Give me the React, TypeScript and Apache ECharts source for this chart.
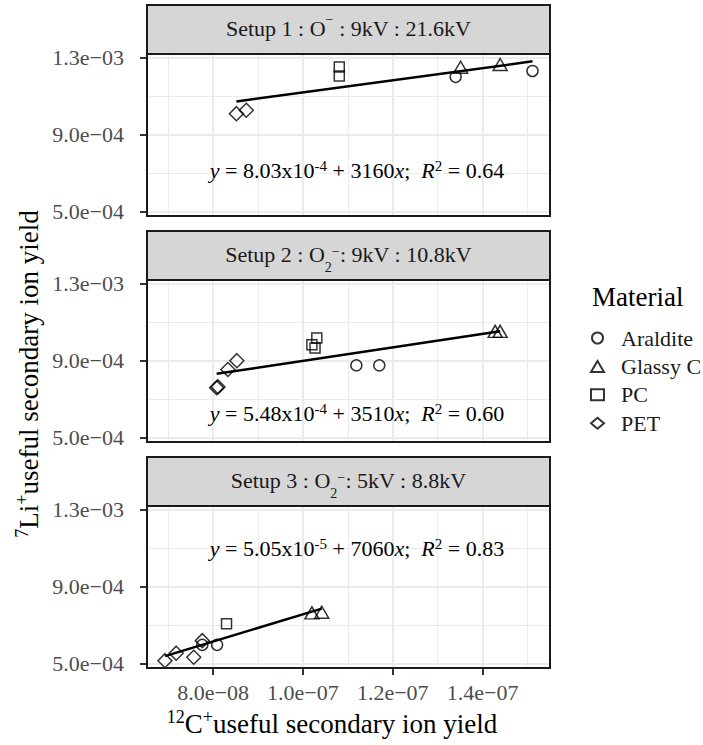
import React, { useEffect, useRef } from 'react';
import * as echarts from 'echarts';

// ---------- data ----------
const materials = ['Araldite', 'Glassy C', 'PC', 'PET'];
const materialSymbols = ['circle', 'triangle', 'rect', 'diamond'];

const setup1Araldite = [[1.340e-7, 1.200e-3], [1.511e-7, 1.2305e-3]];
const setup1Glassy = [[1.351e-7, 1.250e-3], [1.439e-7, 1.264e-3]];
const setup1PC = [[1.081e-7, 1.251e-3], [1.081e-7, 1.205e-3]];
const setup1PET = [[8.52e-8, 1.009e-3], [8.74e-8, 1.027e-3]];

const setup2Araldite = [[1.119e-7, 8.76e-4], [1.170e-7, 8.76e-4]];
const setup2Glassy = [[1.428e-7, 1.052e-3], [1.439e-7, 1.052e-3]];
const setup2PC = [[1.020e-7, 9.83e-4], [1.031e-7, 1.018e-3], [1.027e-7, 9.66e-4]];
const setup2PET = [[8.08e-8, 7.60e-4], [8.11e-8, 7.64e-4], [8.33e-8, 8.54e-4], [8.53e-8, 9.00e-4]];

const setup3Araldite = [[7.76e-8, 5.98e-4], [8.09e-8, 5.98e-4]];
const setup3Glassy = [[1.020e-7, 7.64e-4], [1.042e-7, 7.67e-4]];
const setup3PC = [[8.30e-8, 7.07e-4]];
const setup3PET = [[6.93e-8, 5.16e-4], [7.18e-8, 5.55e-4], [7.57e-8, 5.34e-4], [7.76e-8, 6.20e-4]];

const setup1Fit = [[8.52e-8, 1.0722e-3], [1.511e-7, 1.2805e-3]];
const setup2Fit = [[8.08e-8, 8.316e-4], [1.439e-7, 1.0531e-3]];
const setup3Fit = [[6.93e-8, 5.398e-4], [1.042e-7, 7.862e-4]];

const panelData = [
  [setup1Araldite, setup1Glassy, setup1PC, setup1PET],
  [setup2Araldite, setup2Glassy, setup2PC, setup2PET],
  [setup3Araldite, setup3Glassy, setup3PC, setup3PET],
];
const panelFits = [setup1Fit, setup2Fit, setup3Fit];

const stripTexts = [
  'Setup 1 : O{sup1|−} : 9kV : 21.6kV',
  'Setup 2 : O{sub|2}{sup2|−}: 9kV : 10.8kV',
  'Setup 3 : O{sub|2}{sup2|−}: 5kV : 8.8kV',
];
const equations = [
  '{i|y} = 8.03x10{sup|-4} + 3160{i|x};  {i|R}{sup|2} = 0.64',
  '{i|y} = 5.48x10{sup|-4} + 3510{i|x};  {i|R}{sup|2} = 0.60',
  '{i|y} = 5.05x10{sup|-5} + 7060{i|x};  {i|R}{sup|2} = 0.83',
];

const xRange = [6.53e-8, 1.55e-7];
const yRange = [4.78e-4, 1.3186e-3];
const xTickValues = [8e-8, 1e-7, 1.2e-7, 1.4e-7];
const xTickLabels = ['8.0e−08', '1.0e−07', '1.2e−07', '1.4e−07'];
const xMinorValues = [7e-8, 9e-8, 1.1e-7, 1.3e-7, 1.5e-7];
const yTickValues = [5e-4, 9e-4, 1.3e-3];
const yTickLabels = ['5.0e−04', '9.0e−04', '1.3e−03'];
const yMinorValues = [7e-4, 1.1e-3];

// ---------- layout ----------
const FONT = 'Liberation Serif';
const GL = 147;
const GW = 403;
const GH = 162;
const STRIP_H = 49;
const panelTops = [54, 280, 506];
const eqOffsets = [116, 133, 42];

const symbolSizes: any[] = [11, [14, 12], 10, 14];

function lookup(values: number[], labels: string[]) {
  return (v: number) => {
    for (let i = 0; i < values.length; i++) {
      if (Math.abs(v - values[i]) < Math.abs(values[i]) * 1e-6) return labels[i];
    }
    return '';
  };
}

function buildOption() {
  const grid: any[] = [];
  const xAxis: any[] = [];
  const yAxis: any[] = [];
  const series: any[] = [];
  const graphic: any[] = [];

  panelTops.forEach((top, p) => {
    grid.push({ left: GL, top, width: GW, height: GH, show: true, backgroundColor: '#ffffff', borderWidth: 0 });
    const isBottom = p === panelTops.length - 1;
    xAxis.push({
      type: 'value', gridIndex: p, min: xRange[0], max: xRange[1], position: 'bottom',
      axisLine: { show: false },
      axisTick: { show: isBottom, length: 7, lineStyle: { color: '#333333', width: 2 }, customValues: xTickValues },
      axisLabel: {
        show: isBottom, customValues: xTickValues, formatter: lookup(xTickValues, xTickLabels),
        margin: 13, fontSize: 22, fontFamily: FONT, color: '#4d4d4d',
      },
      splitLine: { show: true, lineStyle: { color: '#ebebeb', width: 2 } },
    });
    xAxis.push({
      type: 'value', gridIndex: p, min: xRange[0], max: xRange[1], position: 'top',
      axisLine: { show: false },
      axisTick: { show: false, customValues: xMinorValues },
      axisLabel: { show: false, customValues: xMinorValues },
      splitLine: { show: true, lineStyle: { color: '#ebebeb', width: 1 } },
    });
    yAxis.push({
      type: 'value', gridIndex: p, min: yRange[0], max: yRange[1], position: 'left',
      axisLine: { show: false },
      axisTick: { show: true, length: 7, lineStyle: { color: '#333333', width: 2 }, customValues: yTickValues },
      axisLabel: {
        show: true, customValues: yTickValues, formatter: lookup(yTickValues, yTickLabels),
        margin: 23, fontSize: 22, fontFamily: FONT, color: '#4d4d4d',
      },
      splitLine: { show: true, lineStyle: { color: '#ebebeb', width: 2 } },
    });
    yAxis.push({
      type: 'value', gridIndex: p, min: yRange[0], max: yRange[1], position: 'right',
      axisLine: { show: false },
      axisTick: { show: false, customValues: yMinorValues },
      axisLabel: { show: false, customValues: yMinorValues },
      splitLine: { show: true, lineStyle: { color: '#ebebeb', width: 1 } },
    });

    materials.forEach((m, k) => {
      series.push({
        type: 'scatter', name: m, xAxisIndex: 2 * p, yAxisIndex: 2 * p,
        data: panelData[p][k], symbol: materialSymbols[k], symbolSize: symbolSizes[k],
        itemStyle: { color: 'transparent', borderColor: '#000000', borderWidth: 1.5 },
        z: 3,
      });
    });
    series.push({
      type: 'line', name: 'fit', xAxisIndex: 2 * p, yAxisIndex: 2 * p,
      data: panelFits[p], symbol: 'none', lineStyle: { color: '#000000', width: 2.5 }, z: 4,
    });

    // strip
    graphic.push({
      type: 'rect', shape: { x: GL, y: top - STRIP_H, width: GW, height: STRIP_H },
      style: { fill: '#d6d6d6', stroke: '#1a1a1a', lineWidth: 2 }, z: 100,
    });
    graphic.push({
      type: 'text', x: GL + GW / 2, y: top - STRIP_H / 2 - 1, z: 101,
      style: {
        text: stripTexts[p], align: 'center', verticalAlign: 'middle',
        fontFamily: FONT, fontSize: 22, fill: '#1a1a1a', lineHeight: 40,
        rich: {
          sup1: { fontFamily: FONT, fontSize: 14, fill: '#1a1a1a', verticalAlign: 'top', lineHeight: 14, padding: [4, 0, 0, 0] },
          sup2: { fontFamily: FONT, fontSize: 14, fill: '#1a1a1a', verticalAlign: 'top', lineHeight: 14, padding: [10, 0, 0, 0] },
          sub: { fontFamily: FONT, fontSize: 14, fill: '#1a1a1a', verticalAlign: 'bottom', lineHeight: 14 },
        },
      },
    });
    // panel border
    graphic.push({
      type: 'rect', shape: { x: GL, y: top, width: GW, height: GH },
      style: { fill: 'none', stroke: '#1a1a1a', lineWidth: 2 }, z: 100,
    });
    // equation
    graphic.push({
      type: 'text', x: 357, y: top + eqOffsets[p], z: 101,
      style: {
        text: equations[p], align: 'center', verticalAlign: 'middle',
        fontFamily: FONT, fontSize: 22, fill: '#000000', lineHeight: 30,
        rich: {
          i: { fontFamily: FONT, fontSize: 22, fontStyle: 'italic', fill: '#000000', lineHeight: 30 },
          sup: { fontFamily: FONT, fontSize: 15, fill: '#000000', verticalAlign: 'top', lineHeight: 15, padding: [3, 0, 0, 0] },
        },
      },
    });
  });

  // axis titles
  graphic.push({
    type: 'text', x: 29, y: 374, rotation: Math.PI / 2, z: 101,
    style: {
      text: '{sup|7}Li{sup|+}useful secondary ion yield', align: 'center', verticalAlign: 'middle',
      fontFamily: FONT, fontSize: 27, fill: '#000000', lineHeight: 36,
      rich: { sup: { fontFamily: FONT, fontSize: 18, fill: '#000000', verticalAlign: 'top', lineHeight: 18, padding: [2, 0, 0, 0] } },
    },
  });
  graphic.push({
    type: 'text', x: 332, y: 724, z: 101,
    style: {
      text: '{sup|12}C{sup|+}useful secondary ion yield', align: 'center', verticalAlign: 'middle',
      fontFamily: FONT, fontSize: 27, fill: '#000000', lineHeight: 36,
      rich: { sup: { fontFamily: FONT, fontSize: 18, fill: '#000000', verticalAlign: 'top', lineHeight: 18, padding: [2, 0, 0, 0] } },
    },
  });
  graphic.push({
    type: 'text', x: 592, y: 297, z: 101,
    style: { text: 'Material', align: 'left', verticalAlign: 'middle', fontFamily: FONT, fontSize: 27, fill: '#000000' },
  });

  return {
    animation: false,
    backgroundColor: '#ffffff',
    grid, xAxis, yAxis, series, graphic,
    legend: {
      data: materials, orient: 'vertical', left: 590, top: 327, padding: 0,
      itemWidth: 13, itemHeight: 11, itemGap: 6.4, selectedMode: false, symbolKeepAspect: true,
      textStyle: { fontFamily: FONT, fontSize: 22, color: '#1a1a1a', lineHeight: 22, padding: [0, 0, 0, 12] },
    },
  };
}

export default function App() {
  const ref = useRef<HTMLDivElement>(null);
  useEffect(() => {
    document.body.style.margin = '0';
    const chart = echarts.init(ref.current!, null, { renderer: 'svg' });
    chart.setOption(buildOption() as any);
    return () => chart.dispose();
  }, []);
  return <div ref={ref} style={{ position: 'fixed', left: 0, top: 0, width: 703, height: 745 }} />;
}
